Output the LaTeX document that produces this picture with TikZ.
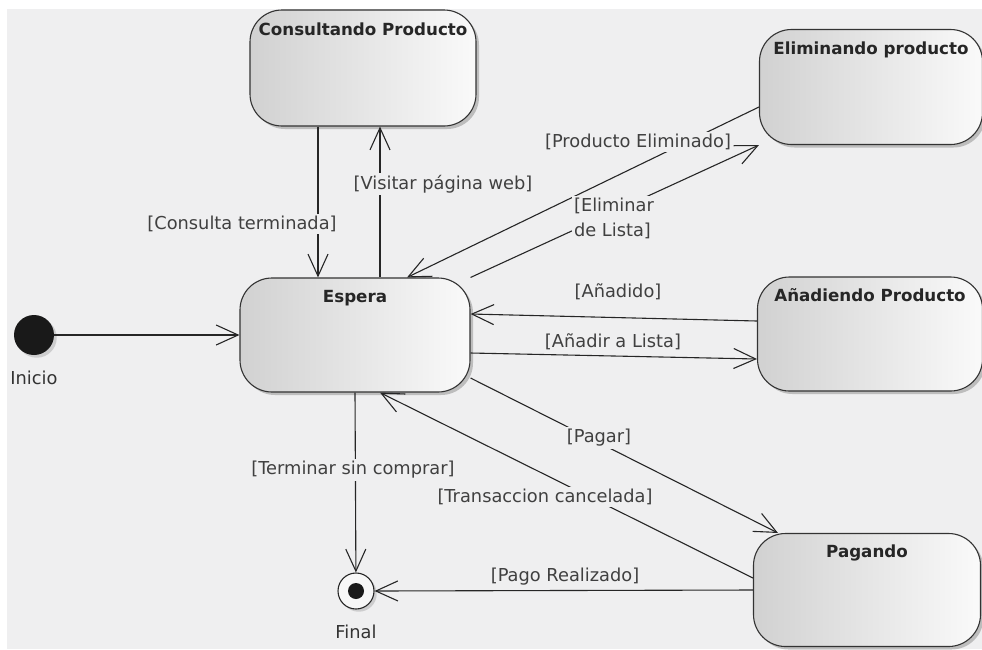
\documentclass[tikz,border=0pt]{standalone}
\usepackage{fontspec}
\setmainfont{DejaVu Sans}
\usetikzlibrary{arrows.meta}
\usetikzlibrary{shadows}
\usepackage{xcolor}
\definecolor{fondo}{RGB}{239,239,240}

\begin{document}
\begin{tikzpicture}[x=1pt,y=-1pt,
  >={Straight Barb[length=22pt,width=20pt]},
  estado/.style={rectangle,rounded corners=32pt,draw=black!80,line width=1.1pt,
    left color=black!18,right color=black!2,
    drop shadow={shadow xshift=3pt,shadow yshift=-3pt,fill=black!45,opacity=0.5}},
  titulo/.style={anchor=base,inner sep=0pt,font=\fontsize{16.7}{19}\selectfont\bfseries,text=black!85},
  trans/.style={->,line width=1.1pt,draw=black!85},
  guarda/.style={fill=fondo,inner sep=2pt,font=\fontsize{17.8}{25}\selectfont,text=black!75},
  rotulo/.style={inner sep=0pt,font=\fontsize{17.8}{21}\selectfont,text=black!80}]
  \useasboundingbox (0,0) rectangle (982,649);
  \fill[white] (0,0) rectangle (982,649);
  \fill[fondo] (7,9) rectangle (982,649);
  % estados
  \node[estado,minimum width=226pt,minimum height=116pt] (consultando) at (363,68) {};
  \node[estado,minimum width=223pt,minimum height=115pt] (eliminando) at (871,87) {};
  \node[estado,minimum width=230pt,minimum height=114pt] (espera) at (355,335) {};
  \node[estado,minimum width=225pt,minimum height=114pt] (anadiendo) at (870,334) {};
  \node[estado,minimum width=227pt,minimum height=113pt] (pagando) at (867,590) {};
  \node[titulo] (tConsultando) at ([yshift=-26pt]consultando.north) {Consultando Producto};
  \node[titulo] (tEliminando) at ([yshift=-26pt]eliminando.north) {Eliminando producto};
  \node[titulo] (tEspera) at ([yshift=-25pt]espera.north) {Espera};
  \node[titulo] (tAnadiendo) at ([yshift=-25pt]anadiendo.north) {Añadiendo Producto};
  \node[titulo] (tPagando) at ([yshift=-25pt]pagando.north) {Pagando};
  % inicio y final
  \node[circle,fill=black!90,minimum size=40pt,drop shadow={opacity=0.3}] (inicio) at (34,335) {};
  \node[rotulo] (tInicio) at (34,378) {Inicio};
  \node[circle,draw=black!85,line width=1.1pt,fill=black!3,minimum size=36pt,
    drop shadow={opacity=0.3},
    path picture={\fill[black!90] (path picture bounding box.center) circle (8pt);}] (final) at (356,591) {};
  \node[rotulo] (tFinal) at (356,632) {Final};
  % transiciones
  \draw[trans] (inicio.east) -- (espera.west);
  \draw[trans] ([xshift=-45pt]consultando.south) -- ([xshift=-45pt]consultando.south |- espera.north)
    node[guarda] (gConsulta) at (242,224) {[Consulta terminada]};
  \draw[trans] ([xshift=25pt]espera.north) -- ([xshift=25pt]espera.north |- consultando.south)
    node[guarda] (gVisitar) at (443,184) {[Visitar página web]};
  \draw[trans] ([yshift=-20pt]eliminando.west) -- ([xshift=52pt]espera.north)
    node[guarda] (gEliminado) at (638,142) {[Producto Eliminado]};
  \draw[trans] (espera.north east) -- (eliminando.south west)
    node[guarda,align=left] (gEliminar) at (614,218) {[Eliminar\\de Lista]};
  \draw[trans] ([yshift=13pt]anadiendo.west) -- ([yshift=21pt]espera.east)
    node[guarda] (gAnadido) at (618,292) {[Añadido]};
  \draw[trans] ([yshift=-18pt]espera.east) -- ([yshift=-25pt]anadiendo.west)
    node[guarda] (gAnadir) at (613,342) {[Añadir a Lista]};
  \draw[trans] ([yshift=-43pt]espera.east) -- ([xshift=25pt]pagando.north west)
    node[guarda] (gPagar) at (599,438) {[Pagar]};
  \draw[trans] ([yshift=12pt]pagando.west) -- ([xshift=25pt]espera.south)
    node[guarda] (gCancelada) at (545,497) {[Transaccion cancelada]};
  \draw[trans] (espera.south) -- (final)
    node[guarda] (gTerminar) at (353,470) {[Terminar sin comprar]};
  \draw[trans] (pagando.west) -- (final.east)
    node[guarda] (gPago) at (565,577) {[Pago Realizado]};
\end{tikzpicture}
\end{document}
